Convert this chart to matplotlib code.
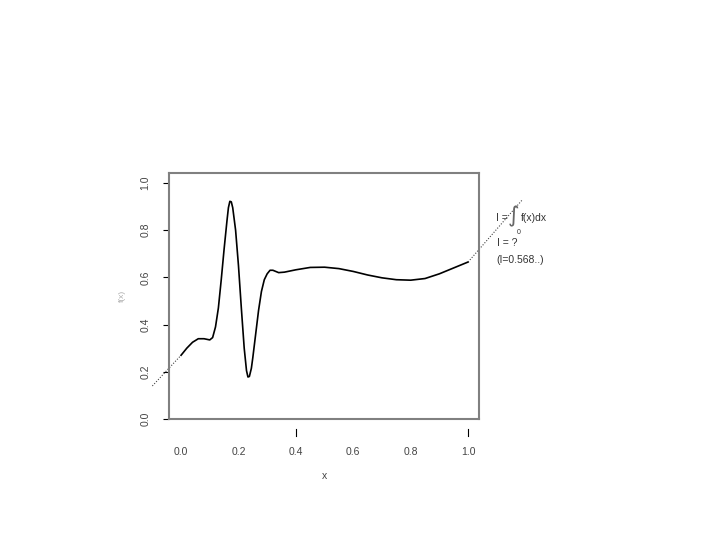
import numpy as np
import matplotlib
matplotlib.use("Agg")
import matplotlib.pyplot as plt
from matplotlib import transforms

plt.rcParams['font.family'] = ['Liberation Sans', 'DejaVu Sans']

# solid part of the curve
x_curve = [0.00, 0.02, 0.04, 0.06, 0.08, 0.10, 0.11, 0.12, 0.13, 0.14,
           0.15, 0.16, 0.165, 0.17, 0.175, 0.18, 0.19, 0.20, 0.21, 0.22,
           0.228, 0.233, 0.238, 0.245, 0.25, 0.26, 0.27, 0.28, 0.29, 0.30,
           0.31, 0.32, 0.34, 0.36, 0.40, 0.45, 0.50, 0.55, 0.60, 0.65,
           0.70, 0.75, 0.80, 0.85, 0.90, 0.95, 1.00]
y_curve = [0.27, 0.30, 0.325, 0.34, 0.34, 0.335, 0.345, 0.39, 0.47, 0.59,
           0.72, 0.84, 0.895, 0.922, 0.92, 0.895, 0.80, 0.65, 0.47, 0.30,
           0.205, 0.178, 0.18, 0.215, 0.26, 0.36, 0.46, 0.54, 0.59, 0.615,
           0.63, 0.63, 0.62, 0.622, 0.632, 0.642, 0.643, 0.637, 0.625, 0.61,
           0.598, 0.59, 0.588, 0.595, 0.615, 0.64, 0.665]

# dotted extensions outside [0, 1]
x_left = [-0.10, 0.00]
y_left = [0.14, 0.27]
x_right = [1.00, 1.19]
y_right = [0.665, 0.93]

xticks = [0.0, 0.2, 0.4, 0.6, 0.8, 1.0]
yticks = [0.0, 0.2, 0.4, 0.6, 0.8, 1.0]
marked_x = [0.4, 1.0]

fig = plt.figure(figsize=(7.2, 5.4), dpi=100)
ax = fig.add_axes([169 / 720, 121 / 540, 310 / 720, 246 / 540])

ax.plot(x_curve, y_curve, color='black', lw=1.2)
ax.plot(x_left, y_left, color='#444444', lw=0.8, ls=(0, (1, 1.5)), clip_on=False)
ax.plot(x_right, y_right, color='#444444', lw=0.8, ls=(0, (1, 1.5)), clip_on=False)

ax.set_xlim(-0.042, 1.038)
ax.set_ylim(0.0, 1.042)

for s in ax.spines.values():
    s.set_color('#808080')
    s.set_linewidth(1.5)

ax.set_yticks(yticks)
ax.set_yticklabels([f'{v:.1f}' for v in yticks], rotation=90, va='center')
ax.tick_params(axis='y', length=4.5, width=0.8, color='black', pad=9,
               labelsize=7.5, labelcolor='#444444')
ax.set_xticks(xticks)
ax.set_xticklabels([f'{v:.1f}' for v in xticks])
ax.tick_params(axis='x', length=0, pad=20, labelsize=7.5, labelcolor='#444444')

# detached tick marks below the box
trans = transforms.blended_transform_factory(ax.transData, ax.transAxes)
for xm in marked_x:
    ax.plot([xm, xm], [-0.041, -0.068], color='black', lw=0.8,
            transform=trans, clip_on=False)

ax.set_xlabel('x', fontsize=7.5, color='#444444', labelpad=10)
ax.set_ylabel('f(x)', fontsize=6, color='#aaaaaa', labelpad=10)

txt = dict(fontsize=7.5, color='#333333', va='center', ha='left')
fig.text(496 / 720, 1 - 218 / 540, 'I =', **txt)
fig.text(508 / 720, 1 - 216 / 540, '\u222b', fontsize=16, color='#666666',
         va='center', ha='left', family=['DejaVu Sans'])
fig.text(517 / 720, 1 - 233 / 540, '0', fontsize=5, color='#333333',
         va='center', ha='left')
fig.text(521 / 720, 1 - 218 / 540, 'f(x)dx', **txt)
fig.text(497 / 720, 1 - 243 / 540, 'I = ?', **txt)
fig.text(496 / 720, 1 - 260 / 540, '(I=0.568..)', **txt)

fig.savefig('out.png', dpi=100)
